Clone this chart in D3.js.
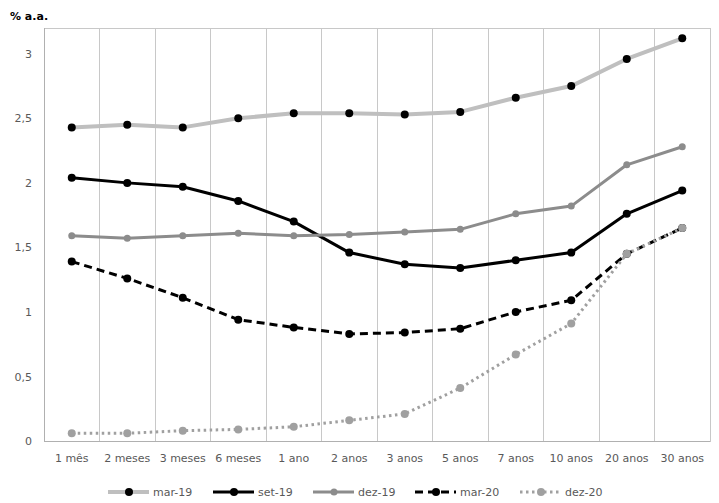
<!DOCTYPE html>
<html><head><meta charset="utf-8">
<script src="https://cdn.jsdelivr.net/npm/d3@7"></script>
<style>body{margin:0;background:#fff}</style>
</head><body>
<svg id="c" width="719" height="503"></svg>
<script>
const categories = ["1 mês","2 meses","3 meses","6 meses","1 ano","2 anos","3 anos","5 anos","7 anos","10 anos","20 anos","30 anos"];
const mar19 = [2.43,2.45,2.43,2.50,2.54,2.54,2.53,2.55,2.66,2.75,2.96,3.12];
const set19 = [2.04,2.00,1.97,1.86,1.70,1.46,1.37,1.34,1.40,1.46,1.76,1.94];
const dez19 = [1.59,1.57,1.59,1.61,1.59,1.60,1.62,1.64,1.76,1.82,2.14,2.28];
const mar20 = [1.39,1.26,1.11,0.94,0.88,0.83,0.84,0.87,1.00,1.09,1.45,1.65];
const dez20 = [0.06,0.06,0.08,0.09,0.11,0.16,0.21,0.41,0.67,0.91,1.45,1.65];
const yTicks = [0,0.5,1,1.5,2,2.5,3];
const seriesNames = ["mar-19","set-19","dez-19","mar-20","dez-20"];

const series = [
  {name:seriesNames[0], values:mar19, stroke:"#bfbfbf", width:4, dash:null, marker:"#000", r:4},
  {name:seriesNames[1], values:set19, stroke:"#000", width:3, dash:null, marker:"#000", r:4},
  {name:seriesNames[2], values:dez19, stroke:"#8c8c8c", width:3, dash:null, marker:"#8c8c8c", r:3.5},
  {name:seriesNames[3], values:mar20, stroke:"#000", width:3, dash:"8,5", marker:"#000", r:4},
  {name:seriesNames[4], values:dez20, stroke:"#a0a0a0", width:3, dash:"2.5,3.5", marker:"#a0a0a0", r:4}
];

const svg = d3.select("#c");
const L=44, R=710, T=28, B=441;
const x = d3.scaleBand().domain(categories).range([L,R]);
const y = d3.scaleLinear().domain([0,3.2]).range([B,T]);
const font = "DejaVu Sans, Verdana, sans-serif";
const textColor = "#595959";

// gridlines at category boundaries
const bounds = categories.map(c=>x(c)).concat([R]);
svg.append("g").selectAll("line").data(bounds.slice(1,-1)).join("line")
  .attr("x1",d=>d).attr("x2",d=>d).attr("y1",T).attr("y2",B)
  .attr("stroke","#c8c8c8").attr("stroke-width",1).attr("shape-rendering","crispEdges");
// plot border
svg.append("rect").attr("x",L).attr("y",T).attr("width",R-L).attr("height",B-T)
  .attr("fill","none").attr("stroke","#c8c8c8").attr("shape-rendering","crispEdges");
svg.append("line").attr("x1",L).attr("x2",R).attr("y1",B).attr("y2",B)
  .attr("stroke","#b0b0b0").attr("shape-rendering","crispEdges");
svg.append("line").attr("x1",L).attr("x2",L).attr("y1",T).attr("y2",B)
  .attr("stroke","#b0b0b0").attr("shape-rendering","crispEdges");

// y axis labels
const yAxis = d3.axisLeft(y).tickValues(yTicks).tickSize(0).tickPadding(10)
  .tickFormat(d=>d3.format("")(d).replace(".",","));
const ya = svg.append("g").attr("transform",`translate(${L-2},0)`).call(yAxis);
ya.select(".domain").remove();
ya.selectAll("text").attr("font-family",font).attr("font-size",11).attr("fill",textColor);

// x axis labels
const xAxis = d3.axisBottom(x).tickSize(0).tickPadding(13);
const xa = svg.append("g").attr("transform",`translate(0,${B})`).call(xAxis);
xa.select(".domain").remove();
xa.selectAll("text").attr("font-family",font).attr("font-size",11).attr("fill",textColor);

// y title
svg.append("text").attr("x",10).attr("y",20).text("% a.a.")
  .attr("font-family",font).attr("font-size",11).attr("font-weight","bold").attr("fill","#000");

const line = d3.line().x((d,i)=>x(categories[i])+x.bandwidth()/2).y(d=>y(d));
series.forEach(s=>{
  svg.append("path").datum(s.values).attr("d",line).attr("fill","none")
    .attr("stroke",s.stroke).attr("stroke-width",s.width)
    .attr("stroke-dasharray",s.dash).attr("stroke-linejoin","round");
  svg.append("g").selectAll("circle").data(s.values).join("circle")
    .attr("cx",(d,i)=>x(categories[i])+x.bandwidth()/2).attr("cy",d=>y(d))
    .attr("r",s.r).attr("fill",s.marker);
});

// legend
const legX = [108,213,313,415,520];
const ly = 492;
const lg = svg.append("g");
series.forEach((s,i)=>{
  const g = lg.append("g").attr("transform",`translate(${legX[i]},${ly})`);
  g.append("line").attr("x1",0).attr("x2",41).attr("y1",0).attr("y2",0)
    .attr("stroke",s.stroke).attr("stroke-width",s.width).attr("stroke-dasharray",s.dash);
  g.append("circle").attr("cx",21).attr("cy",0).attr("r",s.r).attr("fill",s.marker);
  g.append("text").attr("x",45).attr("y",4).text(s.name)
    .attr("font-family",font).attr("font-size",11).attr("fill",textColor);
});
</script>
</body></html>
